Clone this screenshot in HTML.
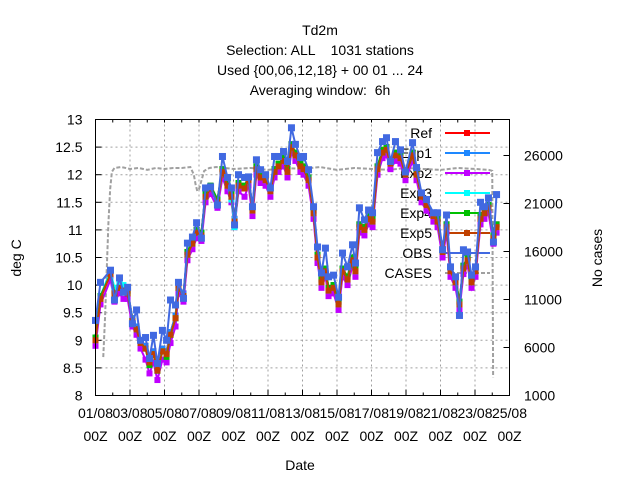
<!DOCTYPE html>
<html><head><meta charset="utf-8"><style>
body{margin:0;background:#fff}
svg{display:block;font-family:"Liberation Sans",sans-serif;font-size:14px}
</style></head><body>
<svg id="chart" width="640" height="480" xmlns="http://www.w3.org/2000/svg">
<rect width="640" height="480" fill="#fff"/>
<g text-anchor="middle" fill="#000">
<text x="320" y="35">Td2m</text>
<text x="320" y="55" xml:space="preserve">Selection: ALL    1031 stations</text>
<text x="320" y="75">Used {00,06,12,18} + 00 01 ... 24</text>
<text x="320" y="95" xml:space="preserve">Averaging window:  6h</text>
</g>
<text transform="translate(21,258) rotate(-90)" text-anchor="middle">deg C</text>
<text transform="translate(602,258) rotate(-90)" text-anchor="middle">No cases</text>
<text x="300" y="470" text-anchor="middle">Date</text>
<g id="grid"></g><g id="axes"></g><g id="legend"></g><g id="series"></g>
<rect x="95.5" y="119.5" width="414" height="276" fill="none" stroke="#000" stroke-width="1"/>
</svg>
<script>
const days=[1.00,1.29,1.87,2.10,2.39,2.62,2.86,3.14,3.38,3.61,3.90,4.13,4.36,4.59,4.88,5.12,5.35,5.64,5.81,6.10,6.33,6.62,6.86,7.14,7.38,7.67,8.07,8.36,8.65,8.88,9.06,9.29,9.64,9.87,10.10,10.33,10.57,10.86,11.14,11.38,11.61,11.90,12.13,12.36,12.59,12.88,13.06,
13.35,13.64,13.87,14.10,14.33,14.51,14.80,15.09,15.32,15.61,15.90,16.07,16.30,16.59,16.83,17.06,17.35,17.64,17.87,18.10,18.39,18.68,18.97,19.38,19.61,19.90,20.19,20.59,20.83,21.12,21.35,21.58,21.87,22.10,22.33,22.57,22.80,23.03,23.32,23.55,23.78,24.07,24.25];
const obs=[9.36,10.05,10.27,9.73,10.13,9.87,9.96,9.30,9.55,9.00,9.05,8.67,9.09,8.58,9.18,9.00,9.73,9.64,10.05,9.76,10.76,10.87,11.13,10.85,11.76,11.78,11.45,12.33,11.95,11.76,11.09,12.00,11.95,11.96,11.42,12.27,12.09,12.00,11.76,12.33,12.33,12.42,12.24,12.85,12.55,12.31,12.33,
12.09,11.42,10.69,10.22,10.67,10.15,10.18,9.78,10.58,10.33,10.73,10.40,11.40,11.18,11.36,11.31,12.40,12.60,12.67,12.24,12.60,12.45,12.05,12.58,12.13,11.67,11.55,11.31,11.31,10.64,11.27,10.33,10.15,9.45,10.64,10.60,10.18,10.33,11.50,11.42,11.58,10.78,11.64];
const exp5=[9.00,9.75,10.20,9.85,9.95,9.90,9.85,9.35,9.20,8.95,8.85,8.60,8.75,8.45,8.80,8.75,9.10,9.40,9.95,9.80,10.55,10.75,10.95,10.90,11.60,11.75,11.50,12.05,11.80,11.60,11.15,11.80,11.75,11.90,11.35,12.10,11.95,11.90,11.70,12.05,12.15,12.25,12.05,12.50,12.35,12.15,12.10,
11.90,11.30,10.50,10.05,10.25,9.90,9.95,9.65,10.25,10.10,10.45,10.25,11.05,11.00,11.20,11.15,12.10,12.40,12.45,12.20,12.35,12.30,12.00,12.35,12.00,11.60,11.45,11.25,11.15,10.60,11.05,10.25,10.05,9.65,10.30,10.45,10.05,10.25,11.20,11.30,11.40,10.85,11.05];
const exp2=[8.90,9.65,10.10,9.70,9.85,9.75,9.75,9.25,9.10,8.85,8.65,8.40,8.60,8.28,8.65,8.60,8.95,9.25,9.85,9.70,10.45,10.65,10.85,10.80,11.50,11.65,11.40,11.95,11.70,11.50,11.05,11.70,11.60,11.80,11.25,12.00,11.85,11.80,11.60,11.95,12.05,12.15,11.95,12.40,12.25,12.05,12.00,
11.80,11.20,10.40,9.95,10.15,9.80,9.85,9.55,10.15,10.00,10.35,10.15,10.95,10.90,11.10,11.05,12.00,12.30,12.35,12.10,12.25,12.20,11.90,12.25,11.90,11.50,11.35,11.15,11.05,10.50,10.95,10.15,9.95,9.55,10.20,10.35,9.95,10.15,11.10,11.20,11.30,10.75,10.95];
const ref=[9.05,9.80,10.25,9.90,10.00,9.95,9.90,9.40,9.25,9.00,8.90,8.65,8.80,8.50,8.85,8.80,9.15,9.45,10.00,9.85,10.60,10.80,11.00,10.95,11.65,11.80,11.55,12.10,11.85,11.65,11.20,11.85,11.80,11.95,11.40,12.15,12.00,11.95,11.75,12.10,12.20,12.30,12.10,12.55,12.40,12.20,12.15,
11.95,11.35,10.55,10.10,10.30,9.95,10.00,9.70,10.30,10.15,10.50,10.30,11.10,11.05,11.25,11.20,12.15,12.45,12.50,12.25,12.40,12.35,12.05,12.40,12.05,11.65,11.50,11.30,11.20,10.65,11.10,10.30,10.10,9.70,10.35,10.50,10.10,10.30,11.25,11.35,11.45,10.90,11.10];
const exp1=[9.05,9.80,10.25,9.90,10.00,9.95,9.90,9.40,9.25,9.00,8.90,8.65,8.80,8.50,8.85,8.80,9.15,9.45,10.00,9.85,10.60,10.80,11.00,10.95,11.65,11.80,11.55,12.10,11.85,11.65,11.20,11.85,11.80,11.95,11.40,12.15,12.00,11.95,11.75,12.10,12.20,12.30,12.10,12.55,12.40,12.20,12.15,
11.95,11.35,10.55,10.10,10.30,9.95,10.00,9.70,10.30,10.15,10.50,10.30,11.10,11.05,11.25,11.20,12.15,12.45,12.50,12.25,12.40,12.35,12.05,12.40,12.05,11.65,11.50,11.30,11.20,10.65,11.10,10.30,10.10,9.70,10.35,10.50,10.10,10.30,11.25,11.35,11.45,10.90,11.10];
const exp3=[9.00,9.80,10.25,9.95,10.05,10.00,9.90,9.35,9.20,8.95,8.85,8.60,8.75,8.45,8.80,8.75,9.10,9.40,9.95,9.80,10.55,10.75,10.95,10.90,11.60,11.75,11.50,12.05,11.80,11.55,11.05,11.80,11.75,11.90,11.35,12.10,11.95,11.90,11.70,12.05,12.15,12.25,12.05,12.50,12.35,12.15,12.10,
11.90,11.30,10.50,10.05,10.25,9.90,9.95,9.65,10.25,10.10,10.45,10.25,11.05,11.00,11.20,11.15,12.10,12.40,12.45,12.20,12.35,12.30,12.00,12.35,12.00,11.60,11.45,11.25,11.15,10.60,11.05,10.25,10.05,9.65,10.30,10.45,10.05,10.25,11.20,11.30,11.40,10.85,11.05];
const exp4=[9.05,9.80,10.20,9.85,9.95,9.90,9.85,9.35,9.20,8.95,8.85,8.55,8.75,8.45,8.80,8.70,9.10,9.40,9.95,9.80,10.60,10.80,11.00,10.95,11.65,11.80,11.55,12.10,11.85,11.65,11.15,11.85,11.80,11.95,11.40,12.15,12.00,11.95,11.75,12.10,12.20,12.30,12.10,12.55,12.40,12.20,12.15,
11.95,11.35,10.55,10.10,10.30,9.95,10.00,9.70,10.30,10.15,10.50,10.30,11.10,11.05,11.25,11.20,12.15,12.45,12.50,12.25,12.40,12.35,12.05,12.40,12.05,11.65,11.50,11.30,11.20,10.65,11.10,10.30,10.10,9.70,10.35,10.50,10.10,10.30,11.25,11.35,11.45,10.90,11.10];
const caseDays=[1.45,1.55,1.65,1.75,1.85,1.95,2.1,2.5,3,3.5,4,4.5,5,5.5,6,6.5,6.7,6.8,6.9,7.0,7.3,7.6,8,9,10,11,12,13,14,15,16,17,18,19,20,21,22,23,23.8,24.0,24.05];
const cases=[5000,9000,14000,19000,22500,24300,24700,24800,24600,24700,24500,24700,24600,24700,24700,24800,24000,23000,22300,22500,24400,24700,24800,24600,24700,24500,24700,24600,24800,24500,24700,24600,24500,24700,24600,24500,24700,24600,24500,24400,2900];
const yTicks=[8,8.5,9,9.5,10,10.5,11,11.5,12,12.5,13];
const y2Ticks=[1000,6000,11000,16000,21000,26000];
const xTickDays=[1,3,5,7,9,11,13,15,17,19,21,23,25];
const xTickLabels=["01/08","03/08","05/08","07/08","09/08","11/08","13/08","15/08","17/08","19/08","21/08","23/08","25/08"];

const L=95.5,R=509.5,T=119.5,B=395.5;
const X=d=>L+(d-1)/24*(R-L);
const Y=v=>B-(v-8)/5*(B-T);
const Y2f=c=>B-(c-1000)/5000*48;
const NS="http://www.w3.org/2000/svg";
function mk(tag,attrs,parent){const e=document.createElementNS(NS,tag);for(const k in attrs)e.setAttribute(k,attrs[k]);parent.appendChild(e);return e;}
const grid=document.getElementById('grid'),axes=document.getElementById('axes'),legend=document.getElementById('legend'),series=document.getElementById('series');

yTicks.forEach(v=>{const y=Y(v);
 if(v>8&&v<13){const g=mk('line',{x1:L,x2:R,y1:y,y2:y,stroke:'#a0a0a0','stroke-dasharray':'2,3'},grid);
 
 }
 mk('line',{x1:L,x2:L+6,y1:y,y2:y,stroke:'#000'},axes);
 const t=mk('text',{x:L-13,y:y+5,'text-anchor':'end'},axes);t.textContent=String(v);
 
 
});
y2Ticks.forEach(c=>{const y=Y2f(c);
 mk('line',{x1:R-6,x2:R,y1:y,y2:y,stroke:'#000'},axes);
 const t=mk('text',{x:524,y:y+5},axes);t.textContent=String(c);
 
 
});
for(let d=1;d<=25;d++){const x=X(d);mk('line',{x1:x,x2:x,y1:B,y2:B-3,stroke:'#000'},axes);mk('line',{x1:x,x2:x,y1:T,y2:T+3,stroke:'#000'},axes);}
xTickDays.forEach((d,i)=>{const x=X(d);
 if(d>1&&d<25){const g=mk('line',{x1:x,x2:x,y1:T,y2:B,stroke:'#a0a0a0','stroke-dasharray':'2,3'},grid);
 
 }
 mk('line',{x1:x,x2:x,y1:B,y2:B-6,stroke:'#000'},axes);
 const t=mk('text',{x:x,y:418,'text-anchor':'middle'},axes);t.textContent=xTickLabels[i];
 
 
 const t2=mk('text',{x:x,y:441,'text-anchor':'middle'},axes);t2.textContent='00Z';
 
 
});

const defs=[["Ref","#ff0000",ref],["Exp1","#1e88ff",exp1],["Exp2","#c000ff",exp2],["Exp3","#00ffff",exp3],["Exp4","#00c000",exp4],["Exp5","#c04000",exp5],["OBS","#4169e1",obs]];
defs.forEach((s,i)=>{const y=133+i*20;
 const t=mk('text',{x:432,y:y+5,'text-anchor':'end'},legend);t.textContent=s[0];
 
 
 mk('line',{x1:445,x2:490,y1:y,y2:y,stroke:s[1],'stroke-width':2},legend);
 mk('rect',{x:464,y:y-3,width:6,height:6,fill:s[1]},legend);
});
{const t=mk('text',{x:432,y:278,'text-anchor':'end'},legend);t.textContent='CASES';
 
 
 mk('line',{x1:445,x2:490,y1:273,y2:273,stroke:'#a0a0a0','stroke-width':2,'stroke-dasharray':'4,2'},legend);}

{const p=mk('polyline',{points:caseDays.map((d,i)=>X(d)+','+Y2f(cases[i])).join(' '),fill:'none',stroke:'#a0a0a0','stroke-width':2,'stroke-dasharray':'4,2'},series);
 
 }
defs.forEach(s=>{const g=mk('g',{},series);
 
 
 mk('polyline',{points:days.map((d,i)=>X(d)+','+Y(s[2][i])).join(' '),fill:'none',stroke:s[1],'stroke-width':2},g);
 const m=s[0]==='OBS'?7:6;
 days.forEach((d,i)=>mk('rect',{x:X(d)-m/2,y:Y(s[2][i])-m/2,width:m,height:m,fill:s[1]},g));
});
</script>
</body></html>
